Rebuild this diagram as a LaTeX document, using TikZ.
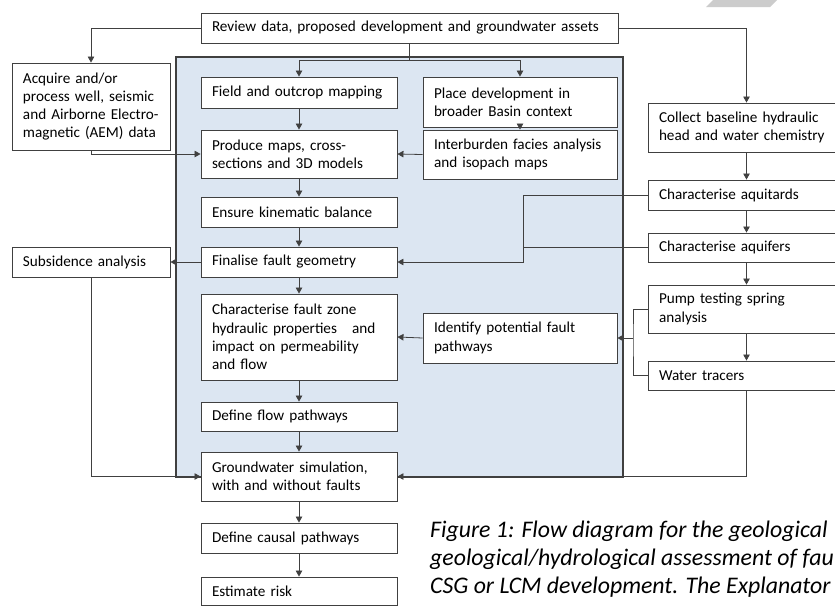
\documentclass[tikz,border=0pt]{standalone}
\usepackage{fontspec}
\setmainfont{Carlito}
\usetikzlibrary{arrows.meta,calc}
\definecolor{panelblue}{HTML}{DCE6F2}
\definecolor{edgegray}{HTML}{404040}
\definecolor{markgray}{HTML}{CCCCCC}
\hyphenpenalty=10000

\begin{document}
\begin{tikzpicture}[x=1pt,y=-1pt,
  >={Triangle[length=6pt,width=6.5pt]},
  stepbox/.style={draw=edgegray, line width=0.9pt, fill=white, inner xsep=11pt,
    inner ysep=0pt, align=left, font=\fontsize{15.2}{18.3}\selectfont},
  midbox/.style={stepbox, text width=174pt},
  sidebox/.style={stepbox, text width=136pt},
  flow/.style={draw=black!75, line width=0.8pt},
  captext/.style={anchor=base west, inner sep=0pt, font=\fontsize{23.8}{28}\selectfont\itshape}]
\clip (0,0) rectangle (835,606);
\fill[white] (0,0) rectangle (835,606);
% corner mark and shaded panel
\fill[markgray] (713,0) -- (777,0) -- (770,7) -- (706,7) -- cycle;
\draw[draw=edgegray, line width=1.2pt, fill=panelblue] (176,57) rectangle (623,477);

% boxes
\node[stepbox, text width=395pt, minimum height=30pt] (review) at (409.5,28) {Review data, proposed development and groundwater assets};
\node[sidebox, minimum height=87pt] (acquire) at (91,106.5) {Acquire and/or\\process well, seismic\\and Airborne Electro-\\magnetic (AEM) data};
\node[midbox, minimum height=31pt] (field) at (299,92.5) {Field and outcrop mapping};
\node[midbox, text width=172pt, minimum height=50pt] (place) at (520,102) {Place development in\\broader Basin context};
\node[midbox, text width=172pt, minimum height=49pt] (inter) at (520,154.5) {Interburden facies analysis\\and isopach maps};
\node[midbox, minimum height=48pt] (produce) at (299,154) {Produce maps, cross-\\sections and 3D models};
\node[midbox, minimum height=30pt] (ensure) at (299,212) {Ensure kinematic balance};
\node[midbox, minimum height=30pt] (finalise) at (299,262) {Finalise fault geometry};
\node[sidebox, minimum height=30pt] (subs) at (91,262) {Subsidence analysis};
\node[midbox, minimum height=86pt] (charfz) at (299,337) {Characterise fault zone\\hydraulic properties ~ and\\impact on permeability\\and flow};
\node[midbox, text width=172pt, minimum height=50pt] (identify) at (520,338) {Identify potential fault\\pathways};
\node[midbox, minimum height=29pt] (defflow) at (299,416.5) {Define flow pathways};
\node[midbox, minimum height=49pt] (gw) at (299,476.5) {Groundwater simulation,\\with and without faults};
\node[midbox, minimum height=30pt] (causal) at (299,538) {Define causal pathways};
\node[midbox, minimum height=28pt] (risk) at (299,591) {Estimate risk};
\node[midbox, text width=175pt, minimum height=49pt] (collect) at (746.5,127.5) {Collect baseline hydraulic\\head and water chemistry};
\node[midbox, text width=175pt, minimum height=30pt] (aquitards) at (746.5,195) {Characterise aquitards};
\node[midbox, text width=175pt, minimum height=29pt] (aquifers) at (746.5,247.5) {Characterise aquifers};
\node[midbox, text width=175pt, minimum height=48pt] (pump) at (746.5,309) {Pump testing spring\\analysis};
\node[midbox, text width=175pt, minimum height=29pt] (water) at (746.5,375.5) {Water tracers};

% connectors from the top box
\coordinate (split) at (409.5,60);
\draw[flow] (review.south) -- (split);
\draw[flow,->] (split) -| (field.north);
\draw[flow,->] (split) -| (place.north);
\draw[flow,->] (review.west) -| (acquire.north);
\draw[flow,->] (review.east) -| (collect.north);

% geology column
\draw[flow,->] (acquire.south) |- (produce.west);
\draw[flow,->] (place) -- (inter);
\draw[flow,->] (inter.west) -- (produce.east);
\draw[flow,->] (field) -- (produce);
\draw[flow,->] (produce) -- (ensure);
\draw[flow,->] (ensure) -- (finalise);
\draw[flow,->] (finalise) -- (charfz);
\draw[flow,->] (charfz) -- (defflow);
\draw[flow,->] (defflow) -- (gw);
\draw[flow,->] (gw) -- (causal);
\draw[flow,->] (causal) -- (risk);
\draw[flow,->] (finalise.west) -- (subs.east);
\draw[flow,->] (subs.south) |- (gw.west);

% hydrology column
\draw[flow,->] (collect) -- (aquitards);
\draw[flow,->] (aquitards) -- (aquifers);
\draw[flow,->] (aquifers) -- (pump);
\draw[flow,->] (pump) -- (water);
\coordinate (aqbus) at (523,262);
\draw[flow,->] (aquitards.west) -| (aqbus) -- (finalise.east);
\draw[flow] (aquifers.west) -- (aquifers.west -| aqbus);
\coordinate (pbus) at (633,338);
\draw[flow] (pump.west) -| (pbus) |- (water.west);
\draw[flow,->] (pbus) -- (identify.east);
\draw[flow,->] (identify.west) -- (charfz.east);
\draw[flow,->] (water.south) |- (gw.east);

% caption
\node[captext] (cap1) at (430,537) {Figure 1: Flow diagram for the geological};
\node[captext] (cap2) at (430,565) {geological/hydrological assessment of fau};
\node[captext] (cap3) at (430,593) {CSG or LCM development. The Explanator};
\end{tikzpicture}
\end{document}
